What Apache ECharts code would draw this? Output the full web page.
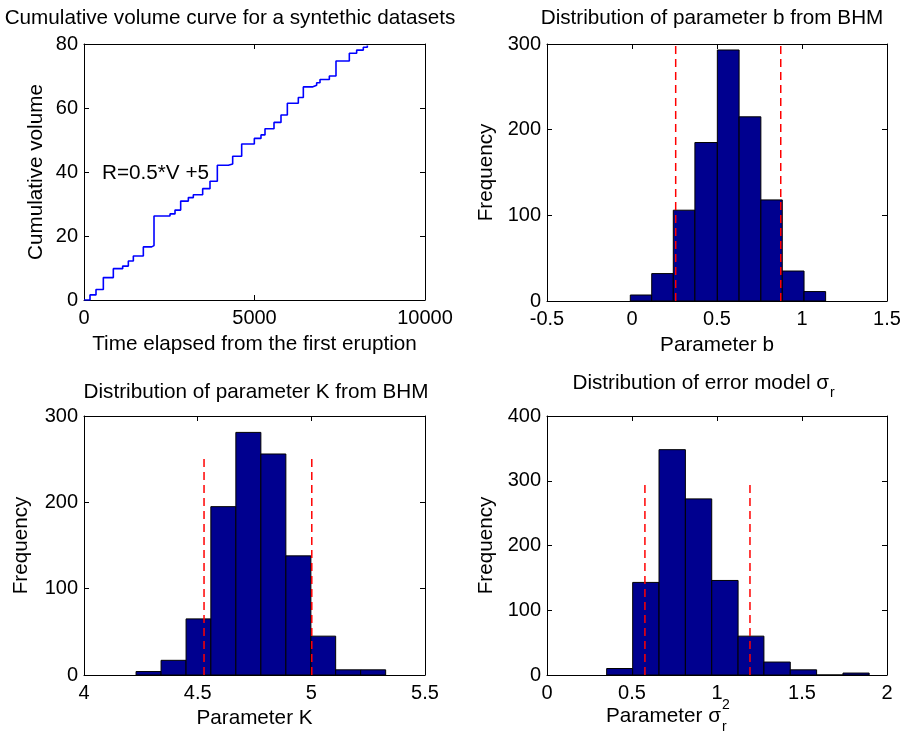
<!DOCTYPE html>
<html>
<head>
<meta charset="utf-8">
<script src="https://cdn.jsdelivr.net/npm/echarts@6/dist/echarts.min.js"></script>
<style>html,body{margin:0;padding:0;background:#fff}#c{width:905px;height:734px}</style>
</head>
<body>
<div id="c"></div>
<script>
// ---- Data ----
const timeSteps = [0,176,352,567,860,1134,1300,1447,1740,1984,2053,2522,2669,2835,3060,3206,3480,3695,3910,4233,4360,4624,4995,5190,5308,5572,5777,5963,6285,6432,6696,6823,6921,7195,7390,7781,7996,8191,8309];
const volumeSteps = [0,1.6,3.3,7.0,9.8,10.6,12.2,13.75,16.6,17.0,26.25,26.9,28.1,30.9,32.0,32.9,34.8,37.1,42.1,42.5,44.9,48.75,50.5,51.6,53.5,55.5,57.8,61.5,63.3,66.6,67.1,67.9,68.9,70.0,74.7,77.1,78.1,79.0,79.5];

const edgesB = [-0.01,0.116,0.243,0.370,0.502,0.630,0.758,0.884,1.012,1.139];
const countsB = [7,32,106,185,293,215,118,35,11];
const boundsB = [0.257,0.875];

const edgesK = [4.229,4.339,4.449,4.558,4.668,4.778,4.888,4.998,5.107,5.217,5.327];
const countsK = [4,17,65,195,281,256,138,45,6,6];
const boundsK = [4.528,5.002];

const edgesS = [0.351,0.504,0.659,0.814,0.969,1.124,1.276,1.431,1.586,1.741,1.895];
const countsS = [10,143,348,272,146,60,20,8,0,3];
const boundsS = [0.576,1.194];

const xTicksTL = [0,10000,5000];
const yTicksTL = [0,80,20];

// ---- Styling ----
const FONT = "'Liberation Sans', Arial, Helvetica, sans-serif";
const FS = 20;
const FT = 20.7;
const grids = [
  {left:84, top:44, width:341, height:256},
  {left:547, top:44, width:340, height:257},
  {left:84, top:416, width:341, height:259},
  {left:547, top:416, width:340, height:259}
];

const xAxes = [], yAxes = [];
function addAxes(gi, xr, yr, xName, xGap, yName, yGap) {
  const base = {
    gridIndex: gi, type: 'value',
    axisLine: {show: true, onZero: false, lineStyle: {color: '#000', width: 1}},
    axisTick: {show: true, inside: true, length: 5, lineStyle: {color: '#000', width: 1}},
    splitLine: {show: false},
    axisLabel: {color: '#000', fontSize: FS, fontFamily: FONT, formatter: v => String(v)}
  };
  xAxes.push(Object.assign({}, base, {position: 'bottom', min: xr[0], max: xr[1], interval: xr[2],
    name: xName, nameLocation: 'middle', nameGap: xGap,
    nameTextStyle: {color: '#000', fontSize: FT, fontFamily: FONT},
    axisLabel: Object.assign({}, base.axisLabel, {margin: 8})}));
  xAxes.push(Object.assign({}, base, {position: 'top', min: xr[0], max: xr[1], interval: xr[2],
    axisLabel: {show: false}}));
  yAxes.push(Object.assign({}, base, {position: 'left', min: yr[0], max: yr[1], interval: yr[2],
    name: yName, nameLocation: 'middle', nameGap: yGap,
    nameTextStyle: {color: '#000', fontSize: FT, fontFamily: FONT},
    axisLabel: Object.assign({}, base.axisLabel, {margin: 6})}));
  yAxes.push(Object.assign({}, base, {position: 'right', min: yr[0], max: yr[1], interval: yr[2],
    axisLabel: {show: false}}));
}
addAxes(0, xTicksTL, yTicksTL, 'Time elapsed from the first eruption', 34, 'Cumulative volume', 37);
addAxes(1, [-0.5,1.5,0.5], [0,300,100], 'Parameter b', 34, 'Frequency', 50);
addAxes(2, [4,5.5,0.5], [0,300,100], 'Parameter K', 33, 'Frequency', 52);
addAxes(3, [0,2,0.5], [0,400,100], '', 33, 'Frequency', 50);

function histSeries(gi, edges, counts) {
  const data = counts.map((c, i) => [edges[i], edges[i+1], c]);
  return {
    type: 'custom', xAxisIndex: gi*2, yAxisIndex: gi*2, z: 2,
    data: data,
    encode: {x: [0,1], y: 2},
    renderItem: function (params, api) {
      const p0 = api.coord([api.value(0), 0]);
      const p1 = api.coord([api.value(1), api.value(2)]);
      return {type: 'rect',
        shape: {x: p0[0], y: p1[1], width: p1[0]-p0[0], height: p0[1]-p1[1]},
        style: {fill: '#00008F', stroke: '#000', lineWidth: 1}};
    }
  };
}
function boundSeries(gi, xs, top) {
  return xs.map(x => ({
    type: 'line', xAxisIndex: gi*2, yAxisIndex: gi*2, z: 5,
    data: [[x,0],[x,top]], symbol: 'none', silent: true, animation: false,
    lineStyle: {color: '#FF0000', width: 1.5, type: [8,5]}
  }));
}

const series = [
  {type: 'line', xAxisIndex: 0, yAxisIndex: 0, step: 'end', symbol: 'none',
   data: timeSteps.map((t, i) => [t, volumeSteps[i]]),
   lineStyle: {color: '#0000FF', width: 1.6}},
  histSeries(1, edgesB, countsB),
  histSeries(2, edgesK, countsK),
  histSeries(3, edgesS, countsS)
].concat(boundSeries(1, boundsB, 300), boundSeries(2, boundsK, 255), boundSeries(3, boundsS, 300));

const txt = (x, y, text, align, size) => ({type: 'text', x: x, y: y, silent: true,
  style: {text: text, fill: '#000', font: (size||FT) + 'px ' + FONT, textAlign: align||'center', textVerticalAlign: 'middle'}});

const option = {
  animation: false,
  backgroundColor: '#fff',
  grid: grids.map(g => Object.assign({containLabel: false, outerBoundsMode: 'none'}, g)),
  xAxis: xAxes, yAxis: yAxes,
  series: series,
  graphic: [
    txt(230, 18, 'Cumulative volume curve for a syntethic datasets'),
    txt(712, 18, 'Distribution of parameter b from BHM'),
    txt(256, 392, 'Distribution of parameter K from BHM'),
    txt(829, 383, 'Distribution of error model σ', 'right'),
    txt(830, 393, 'r', 'left', 14),
    txt(102, 173, 'R=0.5*V +5', 'left'),
    txt(721, 716, 'Parameter σ', 'right'),
    txt(722, 705, '2', 'left', 14),
    txt(722, 727, 'r', 'left', 14)
  ]
};
const chart = echarts.init(document.getElementById('c'), null, {renderer: 'canvas'});
chart.setOption(option);
</script>
</body>
</html>
